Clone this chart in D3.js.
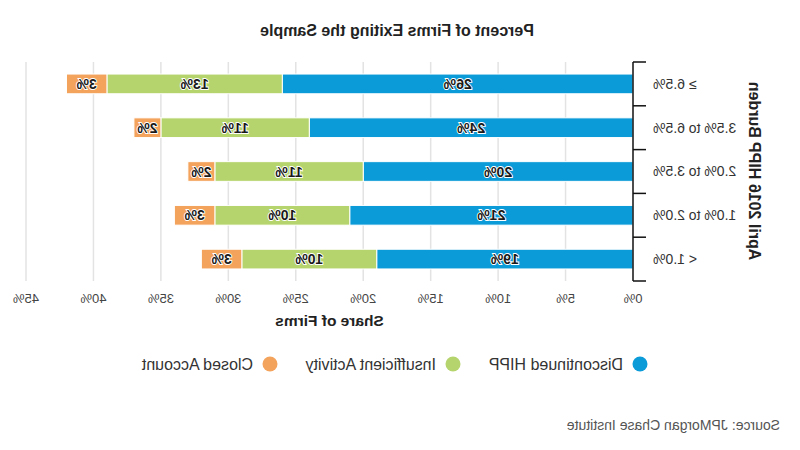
<!DOCTYPE html>
<html><head><meta charset="utf-8">
<script src="https://cdn.jsdelivr.net/npm/d3@7"></script>
<style>body{margin:0;background:#fff;} svg{display:block;font-family:"Liberation Sans",Arial,sans-serif;}</style>
</head><body>
<svg id="chart" width="800" height="450"></svg>
<script>
const categories = ["≥ 6.5%", "3.5% to 6.5%", "2.0% to 3.5%", "1.0% to 2.0%", "< 1.0%"];
const seriesNames = ["Discontinued HIPP", "Insufficient Activity", "Closed Account"];
const discontinued = [26, 24, 20, 21, 19];
const insufficient = [13, 11, 11, 10, 10];
const closed = [3, 2, 2, 3, 3];
const xTicks = [0, 5, 10, 15, 20, 25, 30, 35, 40, 45];
const colors = ["#0b9bd9", "#b6d46d", "#f4a35c"];

const svg = d3.select("#chart");
// the reference image is horizontally mirrored
const root = svg.append("g").attr("transform", "translate(800,0) scale(-1,1)");

const x = d3.scaleLinear().domain([0, 45]).range([167, 774]);
const y = d3.scaleBand().domain(categories).range([62, 281]).paddingInner(0.55).paddingOuter(0.275);

// gridlines
root.append("g").selectAll("line").data(xTicks.filter(d => d > 0)).join("line")
  .attr("x1", d => x(d)).attr("x2", d => x(d)).attr("y1", 62).attr("y2", 281)
  .attr("stroke", "#e3e3e3").attr("stroke-width", 1.5);

// stacked data
const rows = categories.map((c, i) => ({cat: c, vals: [discontinued[i], insufficient[i], closed[i]]}));
const segs = [];
rows.forEach(r => { let acc = 0; r.vals.forEach((v, k) => { segs.push({cat: r.cat, k, v, x0: acc, x1: acc + v}); acc += v; }); });

root.append("g").selectAll("rect").data(segs).join("rect")
  .attr("x", d => x(d.x0)).attr("width", d => x(d.x1) - x(d.x0))
  .attr("y", d => y(d.cat)).attr("height", y.bandwidth())
  .attr("fill", d => colors[d.k]).attr("stroke", "#fff").attr("stroke-width", 1);

root.append("g").selectAll("text").data(segs).join("text")
  .attr("x", d => (x(d.x0) + x(d.x1)) / 2).attr("y", d => y(d.cat) + y.bandwidth() / 2)
  .attr("dy", "0.36em").attr("text-anchor", "middle")
  .attr("font-size", 14).attr("font-weight", "bold").attr("fill", "#1a1a1a")
  .attr("stroke", "#fff").attr("stroke-width", 1.8).attr("paint-order", "stroke")
  .text(d => d.v + "%");

// y axis (category)
const yAx = root.append("g");
yAx.append("line").attr("x1", x(0)).attr("x2", x(0)).attr("y1", 62).attr("y2", 281).attr("stroke", "#111").attr("stroke-width", 1.5);
const bounds = categories.map(c => y(c) - y.step() * y.paddingInner() / 2);
bounds.push(281);
bounds[0] = 62;
yAx.selectAll("line.tk").data(bounds).join("line").attr("class", "tk")
  .attr("x1", x(0) - 13).attr("x2", x(0)).attr("y1", d => d).attr("y2", d => d)
  .attr("stroke", "#111").attr("stroke-width", 1.5);
yAx.selectAll("text").data(categories).join("text")
  .attr("x", x(0) - 20).attr("y", d => y(d) + y.bandwidth() / 2).attr("dy", "0.35em")
  .attr("text-anchor", "end").attr("font-size", 14).attr("fill", "#333").text(d => d);

// x tick labels
root.append("g").selectAll("text").data(xTicks).join("text")
  .attr("x", d => x(d)).attr("y", 298).attr("dy", "0.35em").attr("text-anchor", "middle")
  .attr("font-size", 13).attr("fill", "#444").text(d => d + "%");

// titles
root.append("text").attr("x", 403).attr("y", 30).attr("dy", "0.35em").attr("text-anchor", "middle")
  .attr("font-size", 16).attr("font-weight", "bold").attr("fill", "#222").text("Percent of Firms Exiting the Sample");
root.append("text").attr("x", (x(0) + x(45)) / 2).attr("y", 321).attr("dy", "0.35em").attr("text-anchor", "middle")
  .attr("font-size", 15.5).attr("font-weight", "bold").attr("fill", "#222").text("Share of Firms");
root.append("text").attr("transform", "translate(45,171) rotate(-90)").attr("dy", "0.35em").attr("text-anchor", "middle")
  .attr("font-size", 16).attr("font-weight", "bold").attr("fill", "#222").text("April 2016 HIPP Burden");

// legend
const legX = [160, 347, 530];
const leg = root.append("g").selectAll("g").data(seriesNames).join("g")
  .attr("transform", (d, i) => `translate(${legX[i]},364)`);
leg.append("circle").attr("r", 7.5).attr("fill", (d, i) => colors[i]);
leg.append("text").attr("x", 17).attr("dy", "0.35em").attr("font-size", 16).attr("fill", "#333").text(d => d);

// source
root.append("text").attr("x", 20).attr("y", 425).attr("dy", "0.35em").attr("font-size", 14).attr("fill", "#555")
  .text("Source: JPMorgan Chase Institute");
</script>
</body></html>
